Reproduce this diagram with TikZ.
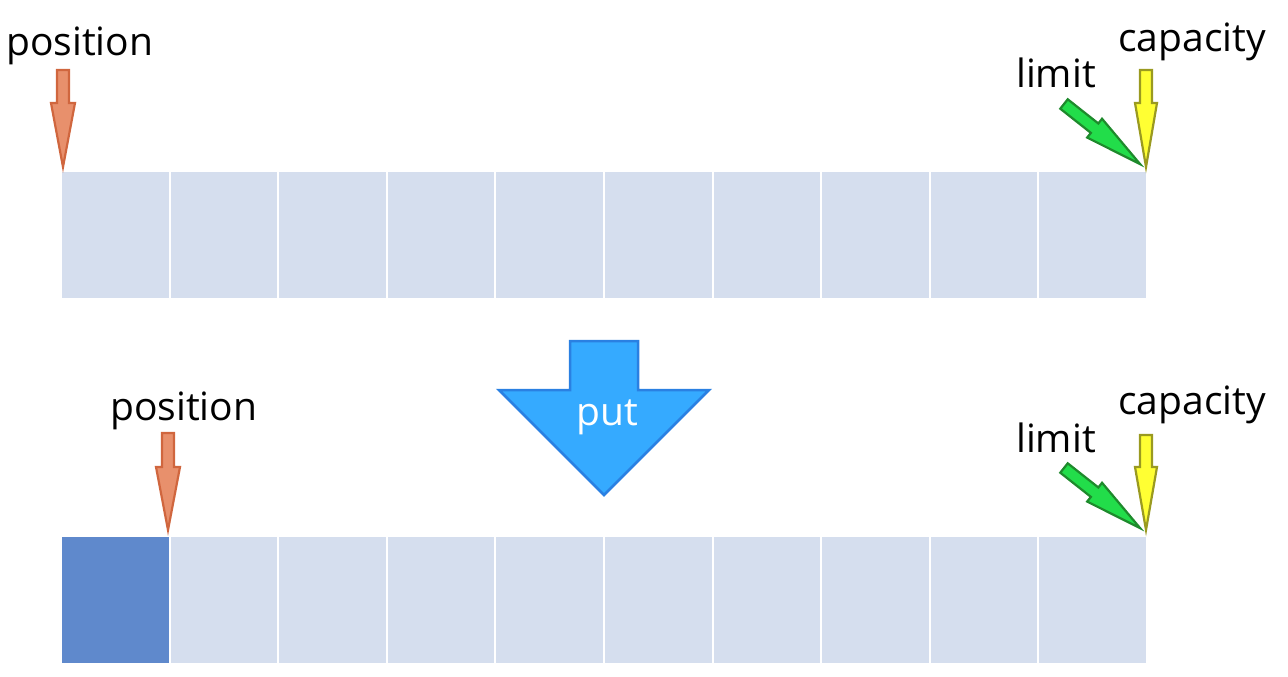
\documentclass[tikz,border=0pt]{standalone}
\usepackage{fontspec}
\setmainfont{Open Sans}
\definecolor{celllight}{HTML}{D5DEEE}
\definecolor{celldark}{HTML}{5F89CC}
\definecolor{orfill}{HTML}{E8906C}
\definecolor{ordraw}{HTML}{D0663E}
\definecolor{yefill}{HTML}{FFFF33}
\definecolor{yedraw}{HTML}{9A9A20}
\definecolor{grfill}{HTML}{22DD4A}
\definecolor{grdraw}{HTML}{1E8A2C}
\definecolor{putfill}{HTML}{35AAFF}
\definecolor{putdraw}{HTML}{2A80E2}
\tikzset{
  cell/.style={rectangle, inner sep=0pt, minimum width=106.6pt, minimum height=126pt, fill=celllight},
  lbl/.style={inner sep=0pt, font=\fontsize{39}{41}\selectfont, anchor=base west},
  orarrow/.style={fill=orfill, draw=ordraw, line width=2.2pt, line join=miter},
  yearrow/.style={fill=yefill, draw=yedraw, line width=2.2pt, line join=miter},
  grarrow/.style={fill=grfill, draw=grdraw, line width=2.2pt, line join=miter},
  putarrow/.style={fill=putfill, draw=putdraw, line width=2.5pt, line join=miter}
}
% #1 tail, #2 angle, #3 length, #4 shaft half width, #5 head half width, #6 head length, #7 style
\newcommand\blkarrow[7]{%
  \draw[#7, shift={(#1)}, rotate=#2] (0,-#4) -- (#3-#6,-#4) -- (#3-#6,-#5) -- (#3,0) -- (#3-#6,#5) -- (#3-#6,#4) -- (0,#4) -- cycle;}
\begin{document}
\begin{tikzpicture}[x=1pt,y=-1pt]
\useasboundingbox (0,0) rectangle (1288,677);
% top row
\foreach \i in {1,...,10} {
  \node[cell] (t\i) at ({62+53.3+108.6*(\i-1)},235) {};
}
% bottom row
\foreach \i in {1,...,10} {
  \node[cell] (b\i) at ({62+53.3+108.6*(\i-1)},600) {};
}
\node[cell, fill=celldark] (b1dark) at (b1) {};
% labels top
\node[lbl] (pos1) at (6,56) {position};
\node[lbl] (lim1) at (1016,88) {limit};
\node[lbl] (cap1) at (1118,52) {capacity};
% labels bottom
\node[lbl] (pos2) at (110,420) {position};
\node[lbl] (lim2) at (1016,452) {limit};
\node[lbl] (cap2) at (1118,414) {capacity};
% arrows top
\blkarrow{63,70}{-90}{97}{6}{12}{64}{orarrow}
\blkarrow{1146,70}{-90}{97}{6}{11}{64}{yearrow}
\blkarrow{1064,104}{-38.3}{97}{6}{12}{58}{grarrow}
% arrows bottom
\blkarrow{168,433}{-90}{97}{6}{12}{63}{orarrow}
\blkarrow{1146,435}{-90}{95}{6}{11}{63}{yearrow}
\blkarrow{1064,468}{-38.3}{97}{6}{12}{58}{grarrow}
% put arrow
\draw[putarrow] (570,341) -- (638,341) -- (638,390) -- (709,390) -- (604,495) -- (499,390) -- (570,390) -- cycle;
\node[lbl, anchor=base, text=white] (put) at (607,425) {put};
\end{tikzpicture}
\end{document}
